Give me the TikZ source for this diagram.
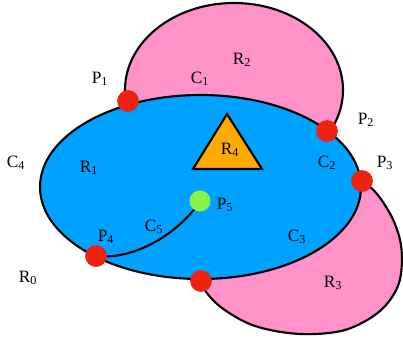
\documentclass[tikz,border=0pt]{standalone}
\usepackage{fontspec}
\setmainfont{Liberation Serif}
\usetikzlibrary{positioning}
\definecolor{skyblue}{HTML}{00A2FF}
\definecolor{petal}{HTML}{FF92C8}
\definecolor{amber}{HTML}{FFAA00}
\definecolor{dotred}{HTML}{EE2211}
\definecolor{dotgreen}{HTML}{88F04A}
\tikzset{
  face/.style={draw=black,line width=1.6pt},
  vertex/.style={circle,fill=dotred,inner sep=0pt,minimum size=16.3pt},
  freevertex/.style={vertex,fill=dotgreen,minimum size=15.8pt},
  lab/.style={font=\fontsize{13}{15}\selectfont,inner sep=0pt},
  edgeline/.style={draw=black,line width=1.6pt}
}
\newcommand{\idx}[2]{#1\textsubscript{#2}}

\begin{document}
\begin{tikzpicture}[x=0.75pt,y=-0.75pt]
  \useasboundingbox (0,0) rectangle (403,342);

  % regions behind the disc
  \draw[face,fill=petal] (234,90) ellipse [x radius=109, y radius=87];
  \draw[face,fill=petal] plot[smooth cycle,tension=0.55] coordinates {
    (362,182) (388,210) (401,245) (399,283) (380,311) (345,330)
    (300,334) (255,326) (222,308) (203,287) (195,260) (212,220)
    (255,192) (310,178)};
  \draw[face,fill=skyblue] (200.5,187) ellipse [x radius=160.5, y radius=92];
  \draw[face,fill=amber] (227,114) -- (262,169) -- (193,169) -- cycle;

  \coordinate (p1) at (128,101);
  \coordinate (p2) at (327,131);
  \coordinate (p3) at (362,181);
  \coordinate (p4) at (96,256);
  \coordinate (p5) at (200,201);
  \coordinate (p6) at (201,281);

  \draw[edgeline] (p4) .. controls (140,261) and (185,226) .. (p5);

  \node[vertex] (v1) at (p1) {};
  \node[vertex] (v2) at (p2) {};
  \node[vertex] (v3) at (p3) {};
  \node[vertex] (v4) at (p4) {};
  \node[vertex] (v6) at (p6) {};
  \node[freevertex] (v5) at (p5) {};

  % labels
  \node[lab] (lP1) at (100,79) {\idx{P}{1}};
  \node[lab] (lP2) at (366,120) {\idx{P}{2}};
  \node[lab] (lP3) at (385,163) {\idx{P}{3}};
  \node[lab] (lP4) at (106,237) {\idx{P}{4}};
  \node[lab] (lP5) at (225,205) {\idx{P}{5}};
  \node[lab] (lC1) at (200,79) {\idx{C}{1}};
  \node[lab] (lC2) at (327,163) {\idx{C}{2}};
  \node[lab] (lC3) at (297,237) {\idx{C}{3}};
  \node[lab] (lC4) at (16,163) {\idx{C}{4}};
  \node[lab] (lC5) at (154,227) {\idx{C}{5}};
  \node[lab] (lR0) at (28,278) {\idx{R}{0}};
  \node[lab] (lR1) at (89,168) {\idx{R}{1}};
  \node[lab] (lR2) at (242,60) {\idx{R}{2}};
  \node[lab] (lR3) at (333,283) {\idx{R}{3}};
  \node[lab] (lR4) at (230,150) {\idx{R}{4}};
\end{tikzpicture}
\end{document}
